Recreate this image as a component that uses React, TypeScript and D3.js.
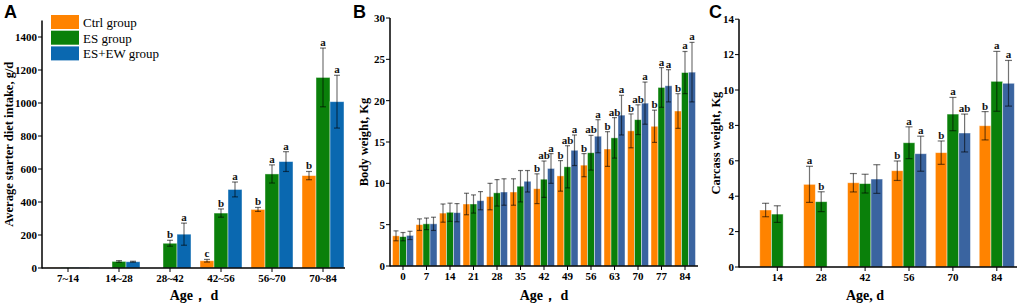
import React from "react";
import * as d3 from "d3";

// ---------- Panel A: average starter diet intake ----------
const ageA = ["7~14", "14~28", "28~42", "42~56", "56~70", "70~84"];
const intakeCtrl = [2, null, null, 44, 355, 560];
const intakeES = [3, 40, 150, 333, 570, 1155];
const intakeESEW = [3, 38, 205, 476, 645, 1008];
const intakeErrCtrl = [0, null, null, 8, 12, 25];
const intakeErrES = [0, 5, 18, 25, 55, 178];
const intakeErrESEW = [0, 3, 67, 45, 60, 160];
const intakeLetCtrl = ["", "", "", "c", "b", "b"];
const intakeLetES = ["", "", "b", "b", "a", "a"];
const intakeLetESEW = ["", "", "a", "a", "a", "a"];
const intakeTicks = [0, 200, 400, 600, 800, 1000, 1200, 1400];

// ---------- Panel B: body weight ----------
const ageB = ["0", "7", "14", "21", "28", "35", "42", "49", "56", "63", "70", "77", "84"];
const bwCtrl = [3.65, 5.0, 6.4, 7.5, 8.4, 8.95, 9.35, 10.9, 12.2, 14.15, 16.35, 16.9, 18.75];
const bwES = [3.55, 5.1, 6.5, 7.5, 8.85, 9.65, 10.5, 12.0, 13.7, 15.5, 17.7, 21.6, 23.4];
const bwESEW = [3.7, 5.1, 6.45, 7.9, 8.95, 10.25, 11.8, 14.0, 15.7, 18.25, 19.7, 21.8, 23.45];
const bwErrCtrl = [0.6, 0.7, 1.1, 1.3, 1.6, 1.6, 1.8, 1.85, 1.4, 2.1, 2.05, 1.95, 2.1];
const bwErrES = [0.5, 0.7, 1.1, 1.1, 1.6, 1.9, 2.2, 2.55, 2.1, 2.45, 1.8, 2.4, 2.55];
const bwErrESEW = [0.5, 0.8, 1.1, 1.1, 1.6, 1.3, 1.8, 1.85, 2.0, 2.4, 2.55, 1.95, 3.6];
const bwLetCtrl = ["", "", "", "", "", "", "b", "b", "b", "b", "b", "b", "b"];
const bwLetES = ["", "", "", "", "", "", "ab", "ab", "ab", "ab", "ab", "a", "a"];
const bwLetESEW = ["", "", "", "", "", "", "a", "a", "a", "a", "a", "a", "a"];
const bwTicks = [0, 5, 10, 15, 20, 25, 30];

// ---------- Panel C: carcass weight ----------
const ageC = ["14", "28", "42", "56", "70", "84"];
const cwCtrl = [3.22, 4.67, 4.76, 5.44, 6.46, 7.98];
const cwES = [2.99, 3.69, 4.71, 7.02, 8.64, 10.49];
const cwESEW = [null, null, 4.97, 6.4, 7.57, 10.38];
const cwErrCtrl = [0.38, 1.02, 0.52, 0.55, 0.66, 0.8];
const cwErrES = [0.47, 0.56, 0.53, 0.9, 0.94, 1.69];
const cwErrESEW = [null, null, 0.81, 0.99, 1.07, 1.29];
const cwLetCtrl = ["", "a", "", "b", "b", "b"];
const cwLetES = ["", "b", "", "a", "a", "a"];
const cwLetESEW = ["", "", "", "a", "ab", "a"];
const cwTicks = [0, 2, 4, 6, 8, 10, 12, 14];

const groups = ["Ctrl group", "ES group", "ES+EW group"];
const ORANGE = "#ff8300";
const GREEN = "#0a800a";
const BLUE_A = "#0a68b0";
const BLUE_BC = "#3a64a0";

const SERIF = "'Liberation Serif', 'Times New Roman', serif";
const SANS = "'Liberation Sans', Arial, sans-serif";

type PanelProps = {
  cats: string[];
  values: (number | null)[][];
  errors: (number | null)[][];
  letters: string[][];
  colors: string[];
  yDomain: [number, number];
  yRange: [number, number];
  ticks: number[];
  axisX: number;
  xRange: [number, number];
  axisEnd: number;
  pad: number;
  yTitle: string;
  yTitleX: number;
  xTitle: string;
  xTitleX: number;
  cap: number;
};

function Panel(p: PanelProps) {
  const y = d3.scaleLinear().domain(p.yDomain).range(p.yRange);
  const x = d3
    .scaleBand<string>()
    .domain(p.cats)
    .range(p.xRange)
    .paddingInner(p.pad)
    .paddingOuter(p.pad / 2);
  const xs = d3
    .scaleBand<string>()
    .domain(groups)
    .range([0, x.bandwidth()]);
  const y0 = y(0);
  const [yTop] = [y(p.yDomain[1])];
  const midY = (y0 + yTop) / 2;
  return (
    <g>
      {/* bars */}
      {p.cats.map((c, i) =>
        groups.map((g, s) => {
          const v = p.values[s][i];
          if (v == null) return null;
          const bx = (x(c) as number) + (xs(g) as number);
          return (
            <rect
              key={c + g}
              x={bx}
              y={y(v)}
              width={xs.bandwidth()}
              height={y0 - y(v)}
              fill={p.colors[s]}
              stroke="rgba(255,255,255,0.55)"
              strokeWidth={0.8}
            />
          );
        })
      )}
      {/* error bars and letters */}
      {p.cats.map((c, i) =>
        groups.map((g, s) => {
          const v = p.values[s][i];
          const e = p.errors[s][i];
          if (v == null) return null;
          const cx = (x(c) as number) + (xs(g) as number) + xs.bandwidth() / 2;
          const lt = p.letters[s][i];
          const top = y(v + (e || 0));
          return (
            <g key={"e" + c + g}>
              {e ? (
                <g stroke="rgba(0,0,0,0.55)" strokeWidth={1.2}>
                  <line x1={cx} x2={cx} y1={y(v + e)} y2={y(v - e)} />
                  <line x1={cx - p.cap / 2} x2={cx + p.cap / 2} y1={y(v + e)} y2={y(v + e)} />
                  <line x1={cx - p.cap / 2} x2={cx + p.cap / 2} y1={y(v - e)} y2={y(v - e)} />
                </g>
              ) : null}
              {lt ? (
                <text
                  x={cx}
                  y={top - 2}
                  textAnchor="middle"
                  fontFamily={SERIF}
                  fontWeight="bold"
                  fontSize={11}
                  fill="#111"
                >
                  {lt}
                </text>
              ) : null}
            </g>
          );
        })
      )}
      {/* axes */}
      <line x1={p.axisX} x2={p.axisX} y1={yTop} y2={y0 + 0.5} stroke="#000" strokeWidth={1.5} />
      <line x1={p.axisX} x2={p.axisEnd} y1={y0} y2={y0} stroke="#000" strokeWidth={1.5} />
      {p.ticks.map((t) => (
        <g key={"t" + t}>
          <line x1={p.axisX - 4} x2={p.axisX} y1={y(t)} y2={y(t)} stroke="#000" strokeWidth={1} />
          <text
            x={p.axisX - 5}
            y={y(t)}
            dy="0.35em"
            textAnchor="end"
            fontFamily={SERIF}
            fontWeight="bold"
            fontSize={11}
            fill="#000"
          >
            {t}
          </text>
        </g>
      ))}
      {p.cats.map((c) => {
        const cx = (x(c) as number) + x.bandwidth() / 2;
        return (
          <g key={"x" + c}>
            <line x1={cx} x2={cx} y1={y0} y2={y0 + 4} stroke="#000" strokeWidth={1} />
            <text
              x={cx}
              y={y0 + 14}
              textAnchor="middle"
              fontFamily={SERIF}
              fontWeight="bold"
              fontSize={11}
              fill="#000"
            >
              {c}
            </text>
          </g>
        );
      })}
      <text
        transform={`translate(${p.yTitleX},${midY}) rotate(-90)`}
        textAnchor="middle"
        fontFamily={SERIF}
        fontWeight="bold"
        fontSize={12.5}
        fill="#000"
      >
        {p.yTitle}
      </text>
      <text
        x={p.xTitleX}
        y={300}
        textAnchor="middle"
        fontFamily={SERIF}
        fontWeight="bold"
        fontSize={14}
        fill="#000"
      >
        {p.xTitle}
      </text>
    </g>
  );
}

export default function App() {
  const legendColors = [ORANGE, GREEN, BLUE_A];
  return (
    <svg
      width={1021}
      height={306}
      style={{ position: "absolute", left: 0, top: 0, background: "#fff" }}
    >
      <rect width={1021} height={306} fill="#fff" />
      <Panel
        cats={ageA}
        values={[intakeCtrl, intakeES, intakeESEW]}
        errors={[intakeErrCtrl, intakeErrES, intakeErrESEW]}
        letters={[intakeLetCtrl, intakeLetES, intakeLetESEW]}
        colors={[ORANGE, GREEN, BLUE_A]}
        yDomain={[0, 1500]}
        yRange={[268, 20.5]}
        ticks={intakeTicks}
        axisX={42}
        xRange={[42.5, 348.5]}
        axisEnd={345}
        pad={9 / 51}
        yTitle="Average starter diet intake, g/d"
        yTitleX={13}
        xTitle="Age， d"
        xTitleX={194}
        cap={6}
      />
      <Panel
        cats={ageB}
        values={[bwCtrl, bwES, bwESEW]}
        errors={[bwErrCtrl, bwErrES, bwErrESEW]}
        letters={[bwLetCtrl, bwLetES, bwLetESEW]}
        colors={[ORANGE, GREEN, BLUE_BC]}
        yDomain={[0, 30]}
        yRange={[266, 18]}
        ticks={bwTicks}
        axisX={390}
        xRange={[391.25, 696.75]}
        axisEnd={698}
        pad={2.5 / 23.5}
        yTitle="Body weight, Kg"
        yTitleX={368}
        xTitle="Age，  d"
        xTitleX={544}
        cap={5}
      />
      <Panel
        cats={ageC}
        values={[cwCtrl, cwES, cwESEW]}
        errors={[cwErrCtrl, cwErrES, cwErrESEW]}
        letters={[cwLetCtrl, cwLetES, cwLetESEW]}
        colors={[ORANGE, GREEN, BLUE_BC]}
        yDomain={[0, 14]}
        yRange={[267, 19.2]}
        ticks={cwTicks}
        axisX={739}
        xRange={[755.35, 1018.75]}
        axisEnd={1017}
        pad={8.8 / 43.9}
        yTitle="Carcass weight, Kg"
        yTitleX={720}
        xTitle="Age, d"
        xTitleX={865}
        cap={7}
      />
      {/* legend */}
      {groups.map((g, i) => (
        <g key={"lg" + g}>
          <rect x={51} y={15 + i * 15.7} width={28} height={14} fill={legendColors[i]} />
          <text x={83} y={27 + i * 15.7} fontFamily={SERIF} fontSize={13} fill="#000">
            {g}
          </text>
        </g>
      ))}
      {/* panel letters */}
      <text x={4} y={18} fontFamily={SANS} fontWeight="bold" fontSize={18} fill="#000">A</text>
      <text x={353} y={18} fontFamily={SANS} fontWeight="bold" fontSize={18} fill="#000">B</text>
      <text x={709} y={18} fontFamily={SANS} fontWeight="bold" fontSize={18} fill="#000">C</text>
    </svg>
  );
}
